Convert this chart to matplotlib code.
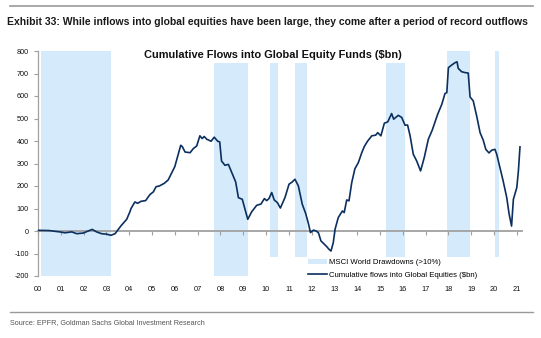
import matplotlib
matplotlib.use('Agg')
import matplotlib.pyplot as plt
from matplotlib import font_manager as fm
from matplotlib.patches import Rectangle, Patch
from matplotlib.lines import Line2D

# ---------------- data ----------------
dates = [2000.00, 2000.48, 2000.96, 2001.18, 2001.48, 2001.70, 2001.99, 2002.20, 2002.38, 2002.57,
         2002.79, 2003.00, 2003.20, 2003.38, 2003.64, 2003.89, 2004.03, 2004.08, 2004.25, 2004.37,
         2004.52, 2004.72, 2004.91, 2005.06, 2005.18, 2005.32, 2005.54, 2005.71, 2005.86, 2006.00,
         2006.13, 2006.26, 2006.33, 2006.45, 2006.67, 2006.81, 2006.96, 2007.10, 2007.20, 2007.29,
         2007.40, 2007.59, 2007.73, 2007.88, 2007.97, 2008.05, 2008.20, 2008.35, 2008.50, 2008.67,
         2008.79, 2008.96, 2009.08, 2009.20, 2009.37, 2009.59, 2009.78, 2009.93, 2010.03, 2010.13,
         2010.25, 2010.36, 2010.50, 2010.63, 2010.83, 2011.01, 2011.15, 2011.27, 2011.42, 2011.59,
         2011.74, 2011.86, 2011.95, 2012.08, 2012.20, 2012.30, 2012.41, 2012.56, 2012.66, 2012.76,
         2012.85, 2012.95, 2013.03, 2013.17, 2013.35, 2013.43, 2013.54, 2013.64, 2013.76, 2013.90,
         2014.05, 2014.20, 2014.31, 2014.46, 2014.64, 2014.81, 2014.90, 2015.04, 2015.19, 2015.34,
         2015.51, 2015.60, 2015.80, 2015.95, 2016.10, 2016.21, 2016.32, 2016.46, 2016.61, 2016.78,
         2016.94, 2017.12, 2017.29, 2017.53, 2017.71, 2017.85, 2017.93, 2018.00, 2018.15, 2018.29,
         2018.38, 2018.43, 2018.58, 2018.73, 2018.87, 2018.95, 2019.09, 2019.24, 2019.39, 2019.53,
         2019.64, 2019.78, 2019.90, 2020.04, 2020.12, 2020.26, 2020.40, 2020.56, 2020.66, 2020.77,
         2020.85, 2021.00, 2021.07, 2021.14]
flows = [3, 2, -4, -8, -4, -12, -9, 0, 7, -4,
         -12, -14, -19, -12, 23, 52, 85, 100, 129, 123,
         132, 135, 162, 174, 197, 200, 212, 227, 257, 286,
         334, 381, 375, 351, 348, 366, 378, 423, 411, 420,
         408, 399, 417, 399, 396, 311, 292, 296, 259, 218,
         148, 141, 97, 52, 85, 114, 120, 144, 135, 144,
         171, 138, 126, 102, 148, 208, 218, 230, 200, 119,
         78, 33, -7, 4, 0, -8, -44, -59, -69, -81,
         -89, -52, 8, 60, 89, 82, 138, 134, 215, 277,
         304, 348, 375, 400, 423, 426, 437, 423, 479, 485,
         522, 497, 514, 505, 470, 471, 423, 341, 311, 267,
         326, 408, 448, 519, 563, 611, 615, 726, 738, 748,
         752, 723, 708, 704, 702, 596, 578, 511, 437, 403,
         363, 347, 359, 363, 341, 282, 223, 148, 77, 22,
         141, 193, 267, 374]

drawdown_starts = [2000.15, 2007.70, 2010.18, 2011.27, 2015.26, 2017.94, 2020.04]
drawdown_ends = [2003.20, 2009.23, 2010.53, 2011.80, 2016.10, 2018.95, 2020.22]

year_ticks = list(range(2000, 2022))
year_labels = ['00', '01', '02', '03', '04', '05', '06', '07', '08', '09', '10',
               '11', '12', '13', '14', '15', '16', '17', '18', '19', '20', '21']
y_ticks = [-200, -100, 0, 100, 200, 300, 400, 500, 600, 700, 800]

header = "Exhibit 33: While inflows into global equities have been large, they come after a period of record outflows"
chart_title = "Cumulative Flows into Global Equity Funds ($bn)"
legend_labels = ["MSCI World Drawdowns (>10%)", "Cumulative flows into Global Equities ($bn)"]
source = "Source: EPFR, Goldman Sachs Global Investment Research"

# ---------------- style ----------------
names = {f.name for f in fm.fontManager.ttflist}
base = 'Liberation Sans' if 'Liberation Sans' in names else 'DejaVu Sans'
narrow = 'Liberation Sans Narrow' if 'Liberation Sans Narrow' in names else base
plt.rcParams['font.family'] = [base, 'DejaVu Sans']

navy = '#0B2F5E'
shade = '#D5EAFB'
grey = '#A0A0A0'

W, H = 541, 338
def fx(px): return px / W
def fy(py): return 1 - py / H

fig = plt.figure(figsize=(W / 100, H / 100), dpi=100)
ax = fig.add_axes([fx(38), fy(276), (522 - 38) / W, (276 - 51) / H])

for s, e in zip(drawdown_starts, drawdown_ends):
    ax.axvspan(s, e, color=shade, lw=0, zorder=0)

ax.plot(dates, flows, color=navy, lw=1.2, zorder=5, solid_joinstyle='round')

ax.set_xlim(2000, 2000 + 484 / 22.8)
ax.set_ylim(-200, 800)

for sp in ['top', 'right', 'bottom']:
    ax.spines[sp].set_visible(False)
ax.spines['left'].set_color(grey)
ax.spines['left'].set_linewidth(0.9)

ax.set_yticks(y_ticks)
ax.set_yticklabels([str(v) for v in y_ticks])
ax.tick_params(axis='y', direction='out', length=3, width=0.8, color=grey,
               labelsize=5.2, pad=3.5, labelcolor='#111111')
ax.set_xticks(year_ticks)
ax.set_xticklabels(year_labels)
ax.tick_params(axis='x', length=0, labelsize=5.3, pad=7.5, labelcolor='#111111')

# zero axis line with tick marks
try:
    sec = ax.secondary_xaxis(0, transform=ax.transData)
except TypeError:
    sec = ax.secondary_xaxis(0.2)
sec.set_xticks(year_ticks)
sec.tick_params(axis='x', direction='out', length=3, width=0.8, color=grey,
                labelbottom=False)
sec.spines['bottom'].set_color(grey)
sec.spines['bottom'].set_linewidth(1.3)
sec.set_zorder(2)

# white area behind legend
ax.add_patch(Rectangle((0.459, 0), 0.541, (276 - 257) / 225, transform=ax.transAxes,
                       facecolor='white', edgecolor='none', zorder=1))

handles = [Patch(facecolor=shade, edgecolor='none'),
           Line2D([0], [0], color=navy, lw=1.2)]
leg = ax.legend(handles, legend_labels, loc='upper left',
                bbox_to_anchor=(fx(308), fy(259)), bbox_transform=fig.transFigure,
                frameon=False, fontsize=5.6, handlelength=2.45, handletextpad=0.25,
                borderpad=0, borderaxespad=0, labelspacing=0.6)
leg.set_zorder(6)

# chart title with white box
ttl = ax.text(0.486, 0.982, chart_title, transform=ax.transAxes, ha='center', va='center',
              fontsize=7.6, fontweight='bold', color='#111111', zorder=7, clip_on=False,
              bbox=dict(facecolor='white', edgecolor='none', pad=2.0))

# header, rules, source
fig.add_artist(Line2D([fx(10), fx(533)], [fy(6), fy(6)], transform=fig.transFigure,
                      color='#9a9a9a', lw=1.2))
fig.add_artist(Line2D([fx(10), fx(533)], [fy(311.5), fy(311.5)], transform=fig.transFigure,
                      color='#9a9a9a', lw=1.0))
htxt = fig.text(fx(7), fy(22), header, ha='left', va='center', fontsize=8.5,
                fontweight='bold', family=[narrow, 'DejaVu Sans'], color='#1a1a1a')
stxt = fig.text(fx(10), fy(323), source, ha='left', va='center', fontsize=6,
                family=[narrow, 'DejaVu Sans'], color='#555555')

# fit text widths to the reference
fig.canvas.draw()
r = fig.canvas.get_renderer()
for t, target in [(htxt, 523), (stxt, 197)]:
    w = t.get_window_extent(r).width
    t.set_fontsize(t.get_fontsize() * target / w)
ttl.set_bbox(None)
w = ttl.get_window_extent(r).width
ttl.set_fontsize(ttl.get_fontsize() * 257 / w)
ttl.set_bbox(dict(facecolor='white', edgecolor='none', pad=2.0))

fig.savefig('out.png', dpi=100)
